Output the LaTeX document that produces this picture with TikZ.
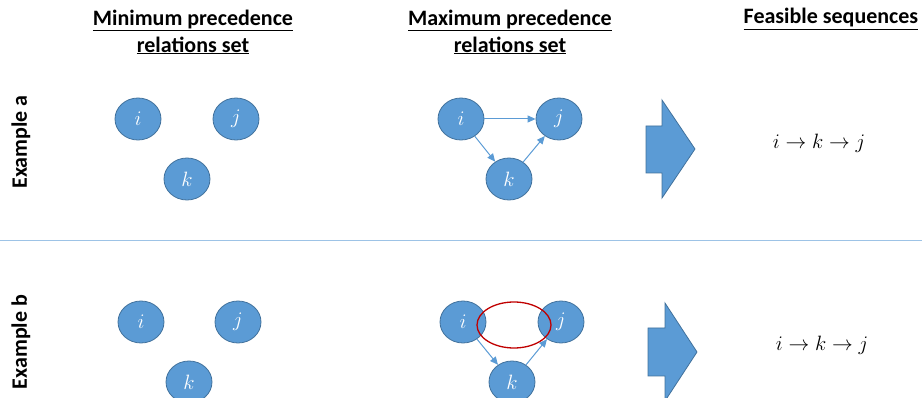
\documentclass[tikz,border=0pt]{standalone}
\usepackage{fontspec}
\setmainfont{Carlito}
\usetikzlibrary{shapes.geometric,arrows.meta}
\definecolor{nodefill}{HTML}{5B9BD5}
\definecolor{nodeedge}{HTML}{41719C}
\definecolor{rulecol}{HTML}{9DC3E6}
\definecolor{loopred}{HTML}{C00000}
\tikzset{
  task/.style={ellipse, draw=nodeedge, fill=nodefill, line width=0.8pt,
    minimum width=46pt, minimum height=42pt, inner sep=0pt, text=white,
    font=\fontsize{21}{21}\selectfont},
  header/.style={align=center, font=\bfseries\fontsize{22}{27}\selectfont},
  rowlabel/.style={rotate=90, font=\bfseries\fontsize{22}{24}\selectfont},
  seq/.style={font=\fontsize{20}{24}\selectfont},
  prec/.style={draw=nodefill, line width=1pt, -{Triangle[length=8pt,width=7pt]}},
  bigarrow/.style={draw=nodeedge, fill=nodefill, line width=0.8pt, line join=miter},
}
\begin{document}
\begin{tikzpicture}[x=1pt,y=-1pt]
\useasboundingbox (0,0) rectangle (922,398);

% column headers
\node[header] (h1) at (193,32) {\underline{Minimum precedence}\\\underline{relations set}};
\node[header] (h2) at (510,32) {\underline{Maximum precedence}\\\underline{relations set}};
\node[header] (h3) at (831,19) {\underline{Feasible sequences}};

% row labels
\node[rowlabel] (la) at (21,142) {Example a};
\node[rowlabel] (lb) at (21,342) {Example b};

% separator between the two examples
\coordinate (sepL) at (0,240.5);
\coordinate (sepR) at (922,240.5);
\draw[rulecol, line width=1pt] (sepL) -- (sepR);

% ---- Example a ----
\node[task] (ai1) at (138,119) {$i$};
\node[task] (aj1) at (236,119) {$j$};
\node[task] (ak1) at (187,179) {$k$};

\node[task] (ai2) at (461,119) {$i$};
\node[task] (aj2) at (559,119) {$j$};
\node[task] (ak2) at (509,179) {$k$};
\draw[prec] (ai2) -- (aj2);
\draw[prec] (ai2) -- (ak2);
\draw[prec] (ak2) -- (aj2);

\draw[bigarrow] (646,126) -- (662,126) -- (662,100) -- (695,149)
  -- (662,198) -- (662,173) -- (646,173) -- cycle;

\node[seq] (sa) at (819,143) {$i \rightarrow k \rightarrow j$};

% ---- Example b ----
\node[task] (bi1) at (141,322) {$i$};
\node[task] (bj1) at (238,322) {$j$};
\node[task] (bk1) at (189,382) {$k$};

\node[task] (bi2) at (463,322) {$i$};
\node[task] (bj2) at (561,322) {$j$};
\node[task] (bk2) at (512,382) {$k$};
\draw[prec] (bi2) -- (bk2);
\draw[prec] (bk2) -- (bj2);
\node[ellipse, draw=loopred, line width=1.3pt, minimum width=74pt,
  minimum height=46pt, inner sep=0pt] (cyc) at (514,325) {};

\draw[bigarrow] (648,328) -- (665,328) -- (665,303) -- (697,352)
  -- (665,401) -- (665,376) -- (648,376) -- cycle;

\node[seq] (sb) at (822,345) {$i \rightarrow k \rightarrow j$};
\end{tikzpicture}
\end{document}
